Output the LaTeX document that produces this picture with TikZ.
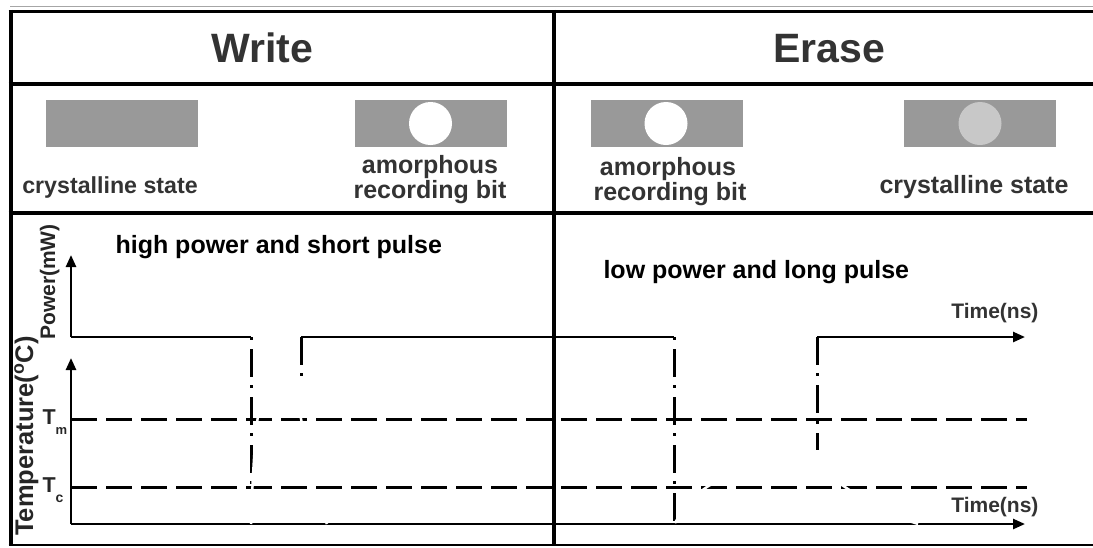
\documentclass[tikz,border=0pt]{standalone}
\usepackage{fontspec}
\setmainfont{Liberation Sans}
\usetikzlibrary{arrows.meta}
\definecolor{txtgray}{RGB}{51,51,51}
\definecolor{barfill}{RGB}{153,153,153}
\definecolor{dotfill}{RGB}{200,200,200}
\newcommand\myfs[1]{\fontsize{#1}{#1}\selectfont\bfseries}
\begin{document}
\begin{tikzpicture}[x=1pt,y=-1pt,
  thickrule/.style={line width=4pt,black},
  bar/.style={fill=barfill,draw=none,minimum width=152pt,minimum height=47pt,inner sep=0pt},
  bit/.style={circle,draw=none,minimum size=43pt,inner sep=0pt},
  lbl/.style={anchor=base,text=txtgray},
  twoline/.style={anchor=base,text=txtgray,align=center,inner sep=0pt,font=\fontsize{25}{22.5}\selectfont\bfseries},
  axis/.style={line width=2.5pt,line cap=butt},
  axarrow/.style={axis,-{Triangle[length=12pt,width=10pt]}},
  level/.style={line width=3pt,dash pattern=on 26pt off 9pt},
  edgeA/.style={line width=3pt,dash pattern=on 28pt off 8pt on 3pt off 9pt},
  edgeB/.style={edgeA,dash phase=36pt},
  hidden/.style={white,line width=2.5pt}]
\useasboundingbox (0,0) rectangle (1093,547);

% frame
\draw[line width=1pt,black!35] (10,6.3) -- (1093,6.3);
\draw[line width=3.5pt] (8.5,11.5) -- (1093,11.5);
\draw[thickrule] (10.5,9.8) -- (10.5,546);
\draw[thickrule] (8.5,84) -- (1093,84);
\draw[thickrule] (8.5,213) -- (1093,213);
\draw[line width=2pt] (8.5,545) -- (1093,545);
\draw[thickrule] (554,9.8) -- (554,546);

% headers
\node[lbl,font=\myfs{41}] (write) at (262,62.5) {Write};
\node[lbl,font=\myfs{41}] (erase) at (829,62.5) {Erase};

% state pictures
\node[bar] (c1) at (122,123.5) {};
\node[bar] (a1) at (430.5,123.5) {};
\node[bit,fill=white] (a1bit) at (430.5,123.5) {};
\node[bar] (a2) at (667,123.5) {};
\node[bit,fill=white] (a2bit) at (666,123.5) {};
\node[bar] (c2) at (980,123.5) {};
\node[bit,fill=dotfill] (c2bit) at (980,123.5) {};

\node[lbl,font=\myfs{23.2}] (t1) at (110,193) {crystalline state};
\node[twoline] (t2) at (430,198) {amorphous\\recording bit};
\node[twoline] (t4) at (668,200) {amorphous\\\hspace*{4pt}recording bit};
\node[lbl,font=\myfs{25}] (t6) at (974,193) {crystalline state};

% coordinates of the plots
\coordinate (P0) at (71,337);
\coordinate (Ptop) at (71,255);
\coordinate (T0) at (71,524);
\coordinate (Ttop) at (71,358);
\coordinate (Tend) at (1025,524);
\coordinate (Pend) at (1025,337);
\coordinate (W1) at (251,337);
\coordinate (W1b) at (251,487);
\coordinate (W2) at (301,337);
\coordinate (W2b) at (301,380);
\coordinate (E1) at (674,337);
\coordinate (E1b) at (674,522);
\coordinate (E2) at (817,337);
\coordinate (E2b) at (817,450);
\coordinate (TmA) at (71,419);
\coordinate (TmB) at (1027,419);
\coordinate (TcA) at (71,487);
\coordinate (TcB) at (1027,487);

% levels
\draw[level] (TmA) -- (TmB);
\draw[level] (TcA) -- (TcB);

% pulse edges
\draw[edgeB] (W1) -- (W1b);
\draw[edgeA] (W2) -- (W2b);
\draw[edgeB] (E1) -- (E1b);
\draw[edgeA] (E2) -- (E2b);

% axes and power trace
\draw[axarrow] (P0) -- (Ptop);
\draw[axarrow] (T0) -- (Ttop);
\draw[axarrow] (T0) -- (Tend);
\draw[axis] (P0) -- (W1);
\draw[axis] (W2) -- (E1);
\draw[axarrow] (E2) -- (Pend);

% temperature traces drawn in white (only their crossings show)
\draw[hidden] (251,524) .. controls (253,470) and (256,380) .. (272,372)
  .. controls (290,365) and (298,400) .. (303,430)
  .. controls (310,470) and (315,500) .. (327,524);
\draw[hidden] (675,523) .. controls (685,505) and (700,490) .. (712,484)
  .. controls (740,465) and (800,460) .. (835,480)
  .. controls (855,495) and (890,515) .. (918,524);

% plot labels
\node[anchor=base west,font=\myfs{25}] (hp) at (112,253) {high power and short pulse};
\node[anchor=base west,font=\myfs{25}] (lp) at (600,278) {low power and long pulse};
\node[rotate=90,anchor=base,font=\myfs{21},text=black!85] (pw) at (55,282) {Power(mW)};
\node[rotate=90,anchor=base,font=\myfs{25.5},text=black!85] (tp) at (33,436) {Temperature(\textsuperscript{o}C)};
\node[anchor=base west,font=\myfs{21.5},text=black!85] (tm) at (39,424) {T\raisebox{-10pt}{\myfs{13}m}};
\node[anchor=base west,font=\myfs{21.5},text=black!85] (tc) at (39,492) {T\raisebox{-10pt}{\myfs{14}c}};
\node[anchor=base east,font=\myfs{21},text=txtgray] (time1) at (1042,318) {Time(ns)};
\node[anchor=base east,font=\myfs{21},text=txtgray] (time2) at (1042,512) {Time(ns)};
\end{tikzpicture}
\end{document}
